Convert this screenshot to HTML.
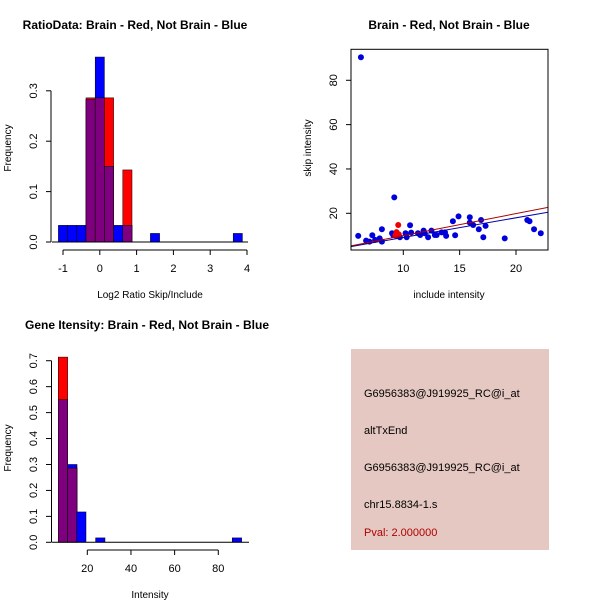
<!DOCTYPE html>
<html><head><meta charset="utf-8"><style>
html,body{margin:0;padding:0;background:#fff;}
svg{display:block;font-family:"Liberation Sans",sans-serif;}
</style></head><body>
<svg id="c" width="600" height="600" viewBox="0 0 600 600">
<rect x="0" y="0" width="600" height="600" fill="#fff"/>
<rect x="351" y="349" width="198" height="201" fill="#e5c8c2"/>
<g font-size="11" fill="#000">
<text x="364" y="397">G6956383@J919925_RC@i_at</text>
<text x="364" y="434">altTxEnd</text>
<text x="364" y="471">G6956383@J919925_RC@i_at</text>
<text x="364" y="508">chr15.8834-1.s</text>
<text x="364" y="536" fill="#b00000">Pval: 2.000000</text>
</g>
</svg>
<script>
// ---- Plot 1 data: ratio histogram ----
const ratioBinStart = [-1.125,-0.875,-0.625,-0.375,-0.125,0.125,0.375,0.625,1.375,3.625];
const ratioBinWidth = 0.25;
const ratioBlue = [0.033,0.033,0.033,0.283,0.367,0.15,0.033,0.033,0.017,0.017];
const ratioRed  = [0,0,0,0.286,0.286,0.286,0,0.143,0,0];
const ratioXTicks = [-1,0,1,2,3,4];
const ratioYTicks = [0,0.1,0.2,0.3];
// ---- Plot 2 data: scatter ----
const blueX = [6.24,6.0,6.7,7.0,7.25,7.5,7.9,8.1,8.1,9.0,9.1,9.2,9.5,9.7,10.2,10.3,10.6,10.7,11.3,11.5,11.8,11.9,12.2,12.5,12.8,12.96,13.4,13.7,13.8,14.4,14.6,14.9,15.9,15.9,16.2,16.7,16.9,17.1,17.3,19.0,21.0,21.2,21.6,22.2];
const blueY = [90.4,9.8,7.7,7.2,10.1,8.0,8.7,7.2,12.8,11.0,10.2,27.2,9.8,9.2,11.0,9.2,14.6,11.3,11.0,10.2,12.2,11.0,9.2,12.2,10.2,10.2,11.4,11.4,9.8,16.4,10.1,18.6,18.2,15.8,14.7,12.8,17.0,9.2,14.3,8.7,17.0,16.4,12.8,11.0];
const redX = [9.3,9.4,9.55,9.6];
const redY = [10.0,11.5,14.7,10.5];
const fitRed = [-0.03,0.995];   // intercept, slope
const fitBlue = [0.25,0.886];
const scatXTicks = [10,15,20];
const scatYTicks = [20,40,60,80];
// ---- Plot 3 data: intensity histogram ----
const intBinStart = [6.7,11.0,15.1,23.8,86.4];
const intBinWidth = 4.3;
const intBlue = [0.55,0.30,0.117,0.017,0.017];
const intRed  = [0.714,0.286,0,0,0];
const intXTicks = [20,40,60,80];
const intYTicks = [0,0.1,0.2,0.3,0.4,0.5,0.6,0.7];

const svg = document.getElementById('c');
const NS = 'http://www.w3.org/2000/svg';
function mk(tag, attrs, parent){
  const e = document.createElementNS(NS, tag);
  for (const k in attrs) e.setAttribute(k, attrs[k]);
  (parent||svg).appendChild(e);
  return e;
}
function txt(x,y,s,size,extra){
  const t = mk('text', Object.assign({x:x,y:y,'font-size':size,'text-anchor':'middle'}, extra||{}));
  t.textContent = s;
  return t;
}
function line(x1,y1,x2,y2,color,w){return mk('line',{x1:x1,y1:y1,x2:x2,y2:y2,stroke:color||'#000','stroke-width':w||1});}

function hist(opts){
  const {sx, sy, starts, width, blue, red, prefix} = opts;
  for (let i=0;i<starts.length;i++){
    const x0 = sx(starts[i]), x1 = sx(starts[i]+width);
    const b = blue[i], r = red[i];
    if (b>0){
      const el = mk('rect',{x:x0,y:sy(b),width:x1-x0,height:sy(0)-sy(b),fill:'#0000ff',stroke:'#000','stroke-width':0.5});
      
      
    }
    if (r>0){
      const el = mk('rect',{x:x0,y:sy(r),width:x1-x0,height:sy(0)-sy(r),fill:'#ff0000',stroke:'#000','stroke-width':0.5});
      
      
    }
    const m = Math.min(b,r);
    if (m>0){
      const el = mk('rect',{x:x0,y:sy(m),width:x1-x0,height:sy(0)-sy(m),fill:'#7f007f',stroke:'#000','stroke-width':0.5});
      
      
    }
  }
}

// ---------- Plot 1 ----------
{
  const sx = v => 63 + (v+1)*36.8;
  const sy = v => 242 - v*504;
  txt(135,29,'RatioData: Brain - Red, Not Brain - Blue',12,{'font-weight':'bold'});
  hist({sx,sy,starts:ratioBinStart,width:ratioBinWidth,blue:ratioBlue,red:ratioRed,prefix:'ratio'});
  line(52,242,248,242);
  line(sx(-1),250,sx(4),250);
  ratioXTicks.forEach(v=>{line(sx(v),250,sx(v),255);const t=txt(sx(v),272,String(v),11);});
  line(51,sy(0),51,sy(0.3));
  ratioYTicks.forEach(v=>{line(46,sy(v),51,sy(v));const t=txt(0,0,v.toFixed(1),11,{transform:`translate(37,${sy(v)}) rotate(-90)`});});
  const xt = txt(150,298,'Log2 Ratio Skip/Include',10); 
  const yt = txt(0,0,'Frequency',10,{transform:'translate(11,148) rotate(-90)'}); 
}

// ---------- Plot 2 ----------
{
  const sx = v => 403.3 + (v-10)*11.27;
  const sy = v => 213.3 - (v-20)*2.217;
  const L=351,R=548,T=49.3,B=250;
  txt(449,29,'Brain - Red, Not Brain - Blue',12,{'font-weight':'bold'});
  const cp = mk('clipPath',{id:'cp2'});
  mk('rect',{x:L,y:T,width:R-L,height:B-T},cp);
  const g = mk('g',{'clip-path':'url(#cp2)'});
  for (let i=0;i<blueX.length;i++){
    const c = mk('circle',{cx:sx(blueX[i]),cy:sy(blueY[i]),r:3,fill:'#0000dd'},g);
    
    
  }
  for (let i=0;i<redX.length;i++){
    const c = mk('circle',{cx:sx(redX[i]),cy:sy(redY[i]),r:3,fill:'#ee0000'},g);
    
    
  }
  const x0=5, x1=24;
  const bl = mk('line',{x1:sx(x0),y1:sy(fitBlue[0]+fitBlue[1]*x0),x2:sx(x1),y2:sy(fitBlue[0]+fitBlue[1]*x1),stroke:'#0000aa','stroke-width':1},g);
  
  const rl = mk('line',{x1:sx(x0),y1:sy(fitRed[0]+fitRed[1]*x0),x2:sx(x1),y2:sy(fitRed[0]+fitRed[1]*x1),stroke:'#aa0000','stroke-width':1},g);
  
  mk('rect',{x:L,y:T,width:R-L,height:B-T,fill:'none',stroke:'#000','stroke-width':1});
  scatXTicks.forEach(v=>{line(sx(v),B,sx(v),B+5);const t=txt(sx(v),272,String(v),11);});
  scatYTicks.forEach(v=>{line(L-5,sy(v),L,sy(v));const t=txt(0,0,String(v),11,{transform:`translate(337,${sy(v)}) rotate(-90)`});});
  txt(449,298,'include intensity',10);
  txt(0,0,'skip intensity',10,{transform:'translate(311,148) rotate(-90)'});
}

// ---------- Plot 3 ----------
{
  const sx = v => 87.3 + (v-20)*2.183;
  const sy = v => 542.3 - v*259.4;
  txt(147,329,'Gene Itensity: Brain - Red, Not Brain - Blue',12,{'font-weight':'bold'});
  hist({sx,sy,starts:intBinStart,width:intBinWidth,blue:intBlue,red:intRed,prefix:'intensity'});
  line(52,542.3,249,542.3);
  line(sx(20),550,sx(80),550);
  intXTicks.forEach(v=>{line(sx(v),550,sx(v),555);const t=txt(sx(v),572,String(v),11);});
  line(51.5,sy(0),51.5,sy(0.7));
  intYTicks.forEach(v=>{line(46,sy(v),51.5,sy(v));const t=txt(0,0,v.toFixed(1),11,{transform:`translate(37,${sy(v)}) rotate(-90)`});});
  txt(150,598,'Intensity',10);
  txt(0,0,'Frequency',10,{transform:'translate(11,448) rotate(-90)'});
}
</script>
</body></html>
